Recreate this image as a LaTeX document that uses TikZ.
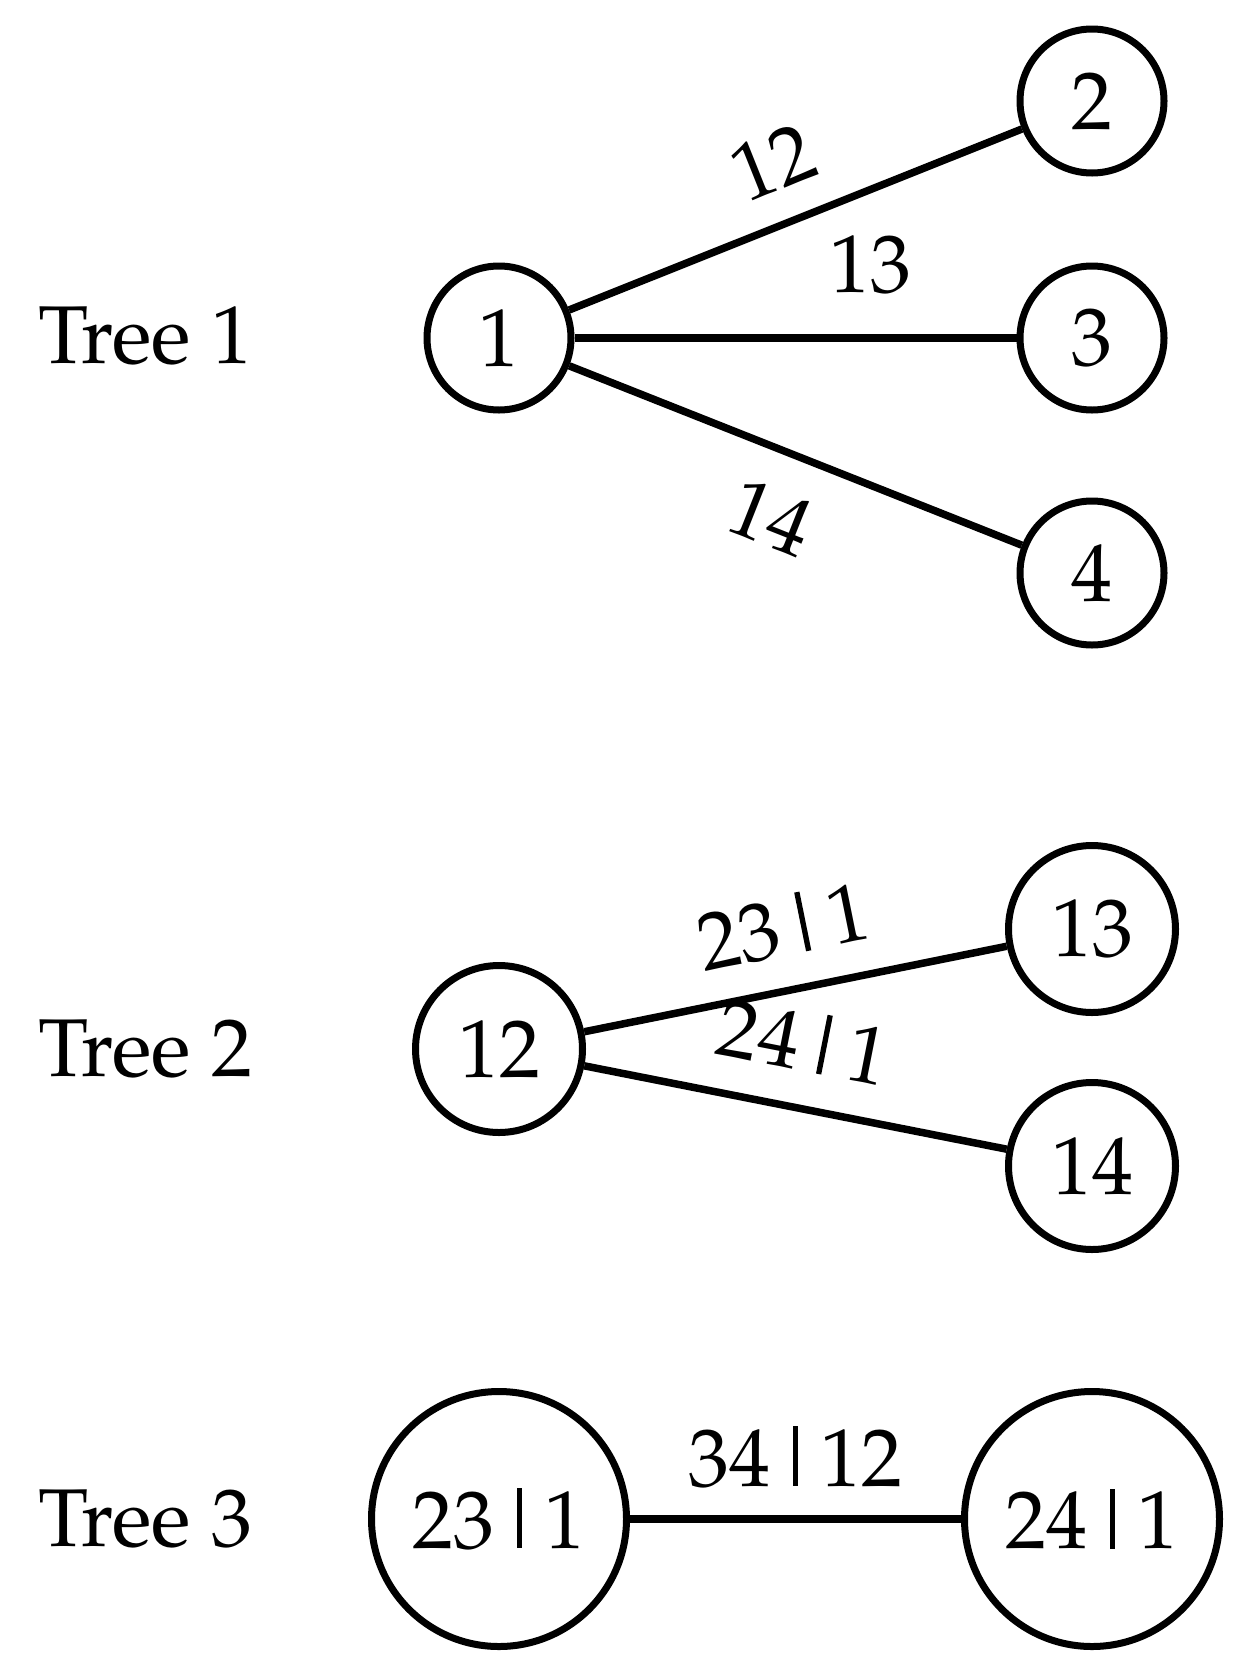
\documentclass[tikz,border=0pt]{standalone}
\usepackage[T1]{fontenc}
\usepackage{mathpazo}
\newcommand{\gbar}{\hspace{0.27em}\rule{0.065em}{0.73em}\hspace{0.27em}}
\begin{document}
\begin{tikzpicture}[x=1pt,y=-1pt,
  every node/.style={font=\fontsize{82}{98}\selectfont},
  vert/.style={circle,draw,line width=7pt,inner sep=0pt},
  vA/.style={vert,minimum size=144pt},
  vB/.style={vert,minimum size=167pt},
  vC/.style={vert,minimum size=255pt},
  edge/.style={line width=7.5pt},
  treelab/.style={anchor=west,inner sep=0pt}]
\useasboundingbox (0,0) rectangle (1253,1663);
% Tree 1
\node[treelab] (t1) at (38,336) {Tree 1};
\node[vA] (n1) at (499,338) {1};
\node[vA] (n2) at (1092,101) {2};
\node[vA] (n3) at (1092,338) {3};
\node[vA] (n4) at (1092,573) {4};
\draw[edge] (n1) -- node[pos=0.5,sloped,above=26pt] (l12) {12} (n2);
\draw[edge] (n1) -- node[pos=0.67,above=37pt] (l13) {13} (n3);
\draw[edge] (n1) -- node[pos=0.5,sloped,below=31pt] (l14) {14} (n4);
% Tree 2
\node[treelab] (t2) at (38,1049) {Tree 2};
\node[vB] (n12) at (499,1049) {12};
\node[vB] (n13) at (1092,929) {13};
\node[vB] (n14) at (1092,1166) {14};
\draw[edge] (n12) -- node[pos=0.5,sloped,above=26pt] (l231) {23\gbar 1} (n13);
\draw[edge] (n12) -- node[pos=0.49,sloped,above=30pt] (l241) {24\gbar 1} (n14);
% Tree 3
\node[treelab] (t3) at (38,1519) {Tree 3};
\node[vC] (n231) at (499,1519) {23\gbar 1};
\node[vC] (n241) at (1092,1519) {24\gbar 1};
\draw[edge] (n231) -- node[pos=0.5,above=24pt] (l3412) {34\gbar 12} (n241);
\end{tikzpicture}
\end{document}
